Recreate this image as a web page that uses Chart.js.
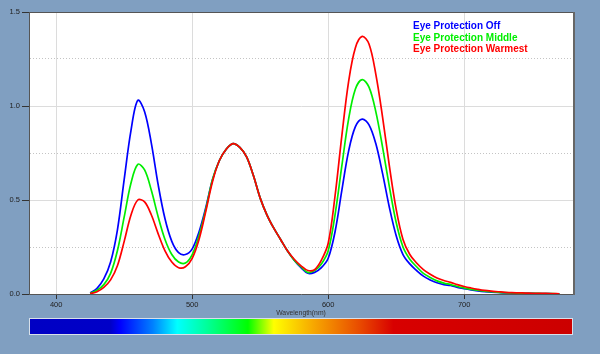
<!DOCTYPE html>
<html>
<head>
<meta charset="utf-8">
<script src="https://cdn.jsdelivr.net/npm/chart.js@4"></script>
<style>
html, body { margin: 0; padding: 0; background: #809fc1; }
canvas { display: block; }
</style>
</head>
<body>
<canvas id="graficoEspectro" width="600" height="354"></canvas>
<script>

const longitudes = [
    425, 430, 435, 440, 445, 450, 455, 460, 465, 470, 475, 480, 485, 490,
    495, 500, 505, 510, 515, 520, 525, 530, 535, 540, 545, 550, 555, 560,
    565, 570, 575, 580, 585, 590, 595, 600, 605, 610, 615, 620, 625, 630,
    635, 640, 645, 650, 655, 660, 665, 670, 675, 680, 685, 690, 695, 700,
    705, 710, 715, 720, 725, 730, 735, 740, 745, 750, 755, 760, 765, 770
];

const protOff = [
    0.005, 0.03, 0.08, 0.17, 0.34, 0.61, 0.87, 1.03, 0.97, 0.80, 0.58, 0.40, 0.28, 0.22,
    0.21, 0.24, 0.33, 0.46, 0.61, 0.71, 0.77, 0.80, 0.78, 0.73, 0.63, 0.51, 0.42, 0.35,
    0.29, 0.23, 0.18, 0.14, 0.11, 0.115, 0.14, 0.19, 0.33, 0.55, 0.76, 0.89, 0.93, 0.90,
    0.80, 0.64, 0.46, 0.31, 0.21, 0.16, 0.125, 0.095, 0.075, 0.06, 0.05, 0.045, 0.035, 0.028,
    0.022, 0.017, 0.013, 0.01, 0.008, 0.006, 0.005, 0.004, 0.003, 0.003, 0.002, 0.002, 0.001, 0.001
];

const protMiddle = [
    0.003, 0.02, 0.05, 0.11, 0.23, 0.41, 0.59, 0.69, 0.66, 0.55, 0.41, 0.29, 0.21, 0.17,
    0.165, 0.21, 0.31, 0.45, 0.61, 0.71, 0.77, 0.80, 0.78, 0.73, 0.63, 0.51, 0.42, 0.35,
    0.29, 0.23, 0.18, 0.145, 0.115, 0.125, 0.16, 0.23, 0.42, 0.68, 0.93, 1.09, 1.14, 1.10,
    0.97, 0.78, 0.57, 0.38, 0.25, 0.185, 0.145, 0.11, 0.088, 0.07, 0.058, 0.05, 0.04, 0.032,
    0.025, 0.02, 0.015, 0.012, 0.009, 0.007, 0.006, 0.005, 0.004, 0.003, 0.003, 0.002, 0.002, 0.001
];

const protWarmest = [
    0.002, 0.012, 0.035, 0.075, 0.15, 0.28, 0.42, 0.50, 0.49, 0.42, 0.32, 0.23, 0.17, 0.14,
    0.145, 0.19, 0.29, 0.44, 0.60, 0.71, 0.77, 0.80, 0.78, 0.73, 0.63, 0.51, 0.42, 0.35,
    0.29, 0.23, 0.185, 0.15, 0.125, 0.13, 0.18, 0.27, 0.52, 0.84, 1.13, 1.31, 1.37, 1.33,
    1.17, 0.94, 0.68, 0.45, 0.29, 0.21, 0.165, 0.13, 0.105, 0.085, 0.072, 0.062, 0.05, 0.04,
    0.032, 0.025, 0.019, 0.015, 0.012, 0.009, 0.007, 0.006, 0.005, 0.004, 0.003, 0.003, 0.002, 0.001
];

const series = ["Eye Protection Off", "Eye Protection Middle", "Eye Protection Warmest"];

const ticksX = [400, 500, 600, 700];
const ticksY = [0, 0.25, 0.5, 0.75, 1.0, 1.25, 1.5];

function puntos(valores) {
    return longitudes.map((x, i) => ({ x: x, y: valores[i] }));
}

function esMayor(v) {
    return Math.abs(v * 2 - Math.round(v * 2)) < 1e-6;
}

// fondo azul, area blanca, marco
const fondo = {
    id: 'fondo',
    beforeDraw(chart) {
        const ctx = chart.ctx;
        const a = chart.chartArea;
        ctx.save();
        ctx.fillStyle = '#809fc1';
        ctx.fillRect(0, 0, chart.width, chart.height);
        ctx.fillStyle = '#ffffff';
        ctx.fillRect(a.left, a.top, a.right - a.left, a.bottom - a.top);
        ctx.restore();
    },
    afterDraw(chart) {
        const ctx = chart.ctx;
        const a = chart.chartArea;
        ctx.save();
        ctx.strokeStyle = '#555555';
        ctx.lineWidth = 1;
        ctx.beginPath();
        ctx.moveTo(a.left, a.top + 0.5);
        ctx.lineTo(a.right, a.top + 0.5);
        ctx.stroke();
        ctx.strokeStyle = '#666666';
        ctx.lineWidth = 2;
        ctx.beginPath();
        ctx.moveTo(a.right + 1, a.top);
        ctx.lineTo(a.right + 1, a.bottom + 1);
        ctx.stroke();

        // barra del espectro
        const x = chart.scales.x;
        const x0 = x.getPixelForValue(380);
        const x1 = x.getPixelForValue(780);
        const y0 = a.bottom + 24;
        const h = 17;
        const g = ctx.createLinearGradient(x0, 0, x1, 0);
        const paradas = [
            [380, '#0000c4'], [440, '#0000c8'], [447, '#0000ff'], [471, '#0080ff'],
            [489, '#00ffff'], [511, '#00ff99'], [541, '#00ff00'], [560, '#ffff00'],
            [589, '#f7a800'], [624, '#e84800'], [648, '#d80000'], [780, '#cc0000']
        ];
        paradas.forEach(p => g.addColorStop((p[0] - 380) / 400, p[1]));
        ctx.fillStyle = g;
        ctx.fillRect(x0, y0, x1 - x0, h);
        ctx.strokeStyle = '#d8e0ea';
        ctx.lineWidth = 1;
        ctx.strokeRect(x0 + 0.5, y0 + 0.5, x1 - x0 - 1, h - 1);
        ctx.restore();
    }
};

const leyenda = {
    id: 'leyenda',
    afterDatasetsDraw(chart) {
        const ctx = chart.ctx;
        ctx.save();
        ctx.font = 'bold 10px "Liberation Sans", Arial, sans-serif';
        ctx.textBaseline = 'middle';
        chart.data.datasets.forEach((ds, i) => {
            ctx.fillStyle = ds.borderColor;
            ctx.fillText(ds.label, 413, 26.5 + i * 11.5);
        });
        ctx.restore();
    }
};

new Chart(document.getElementById('graficoEspectro'), {
    type: 'line',
    data: {
        datasets: [
            { label: series[0], data: puntos(protOff), borderColor: '#0000ff', order: 3 },
            { label: series[1], data: puntos(protMiddle), borderColor: '#00ee00', order: 2 },
            { label: series[2], data: puntos(protWarmest), borderColor: '#ff0000', order: 1 }
        ]
    },
    options: {
        responsive: false,
        animation: false,
        devicePixelRatio: 1,
        layout: { padding: { top: 12, right: 27, left: 0, bottom: 37 } },
        elements: {
            line: { borderWidth: 1.7, tension: 0.35, fill: false },
            point: { radius: 0 }
        },
        plugins: {
            legend: { display: false },
            tooltip: { enabled: false }
        },
        scales: {
            x: {
                type: 'linear',
                min: 380,
                max: 780,
                afterBuildTicks: s => { s.ticks = ticksX.map(v => ({ value: v })); },
                afterFit: s => { s.height = 23; },
                ticks: {
                    color: '#222',
                    padding: 1,
                    font: { family: '"Liberation Sans", Arial', size: 7.5 },
                    callback: v => v
                },
                grid: { color: '#dcdcdc', tickColor: '#333', tickLength: 5 },
                border: { color: '#555', width: 1 },
                title: {
                    display: true,
                    text: 'Wavelength(nm)',
                    color: '#333',
                    padding: 0,
                    font: { family: '"Liberation Sans", Arial', size: 6.8 }
                }
            },
            y: {
                min: 0,
                max: 1.5,
                afterBuildTicks: s => { s.ticks = ticksY.map(v => ({ value: v })); },
                afterFit: s => { s.width = 29; },
                ticks: {
                    color: '#222',
                    padding: 2,
                    font: { family: '"Liberation Sans", Arial', size: 7.5 },
                    callback: v => esMayor(v) ? v.toFixed(1) : ''
                },
                grid: {
                    color: c => c.tick && esMayor(c.tick.value) ? '#dcdcdc' : '#c4c4c4',
                    tickColor: c => c.tick && esMayor(c.tick.value) ? '#333' : 'rgba(0,0,0,0)',
                    tickLength: 7
                },
                border: {
                    color: '#555',
                    width: 1,
                    dash: c => c.tick && !esMayor(c.tick.value) ? [1, 2] : []
                }
            }
        }
    },
    plugins: [fondo, leyenda]
});
</script>
</body>
</html>
